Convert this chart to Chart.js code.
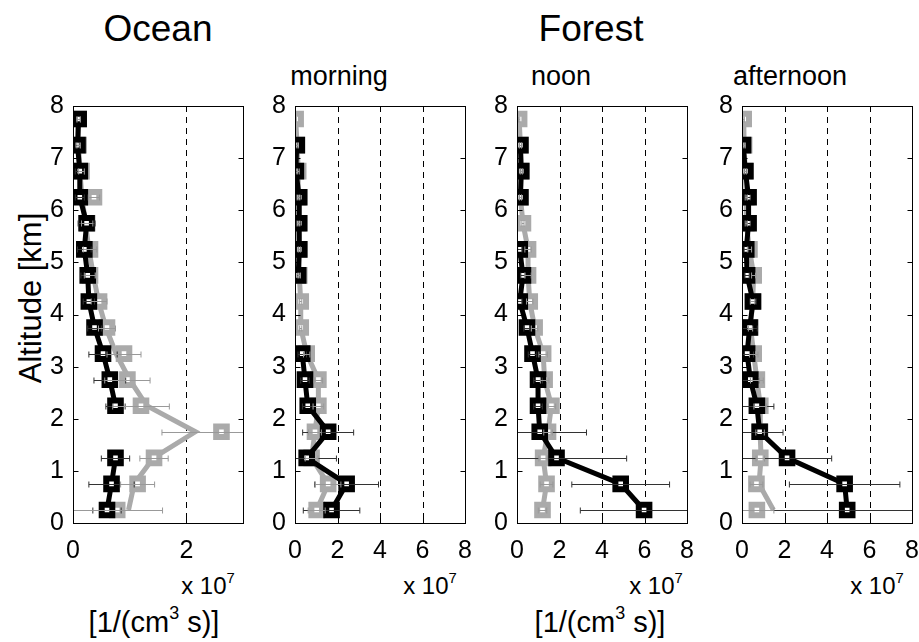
<!DOCTYPE html>
<html lang="en">
<head>
<meta charset="UTF-8"/>
<title>Ocean / Forest profiles</title>
<script src="https://cdn.jsdelivr.net/npm/chart.js@4.4.2/dist/chart.umd.min.js"></script>
<style>
body{margin:0;width:919px;height:642px;background:#fff;overflow:hidden;position:relative;font-family:"Liberation Sans",Arial,sans-serif;color:#000}
canvas{position:absolute}
.t{position:absolute;white-space:nowrap;transform:translate(-50%,-50%);line-height:1}
.t sup{font-size:62%;position:relative;top:-0.15em}
</style>
</head>
<body>
<div class="t" style="left:158px;top:28px;font-size:37px">Ocean</div>
<div class="t" style="left:591px;top:28px;font-size:37px">Forest</div>
<div class="t" style="left:339px;top:76px;font-size:27px">morning</div>
<div class="t" style="left:561px;top:76px;font-size:27px">noon</div>
<div class="t" style="left:790px;top:76px;font-size:27px">afternoon</div>
<div class="t" style="left:30px;top:298px;font-size:31px;transform:translate(-50%,-50%) rotate(-90deg)">Altitude [km]</div>
<div class="t" style="left:208px;top:585px;font-size:24px">x 10<sup>7</sup></div>
<div class="t" style="left:430px;top:585px;font-size:24px">x 10<sup>7</sup></div>
<div class="t" style="left:656px;top:585px;font-size:24px">x 10<sup>7</sup></div>
<div class="t" style="left:877px;top:585px;font-size:24px">x 10<sup>7</sup></div>
<div class="t" style="left:154px;top:622px;font-size:29px">[1/(cm<sup>3</sup> s)]</div>
<div class="t" style="left:600px;top:622px;font-size:29px">[1/(cm<sup>3</sup> s)]</div>

<canvas id="c0" width="230" height="477" style="left:28px;top:86px"></canvas>
<canvas id="c1" width="230" height="477" style="left:250px;top:86px"></canvas>
<canvas id="c2" width="230" height="477" style="left:472px;top:86px"></canvas>
<canvas id="c3" width="230" height="477" style="left:697px;top:86px"></canvas>
<script>
// altitude levels [km]
const alt = [0.25,0.75,1.25,1.75,2.25,2.75,3.25,3.75,4.25,4.75,5.25,5.75,6.25,6.75,7.25,7.75];
const yTicks = [0,1,2,3,4,5,6,7,8];
const xTicks = [0,2,4,6,8];

// values in units of 1e7 1/(cm^3 s)
const oceanBlack     = [0.60,0.68,0.75,null,0.75,0.65,0.53,0.38,0.28,0.26,0.20,0.24,0.12,0.12,0.08,0.10];
const oceanBlackErr  = [0.25,0.40,0.25,null,0.17,0.28,0.25,0.12,0.10,0.12,0.12,0.15,0.08,0.08,0.03,0.03];
const oceanGray      = [0.78,1.14,1.43,2.62,1.20,0.96,0.90,0.60,0.46,0.30,0.30,0.25,0.37,0.15,0.10,0.10];
const oceanGrayErr   = [0.80,0.30,0.25,1.05,0.50,0.40,0.30,0.15,0.14,0.10,0.12,0.10,0.10,0.05,0.03,0.03];
const oceanGrayLine  = [0.98,1.08,1.42,2.16,1.30,1.00,0.76,0.58,0.45,0.36,0.28,0.22,0.16,0.12,0.10,0.08];

const mornBlack      = [1.72,2.43,0.55,1.56,0.60,0.47,0.34,null,null,0.15,0.20,0.20,0.20,0.04,0.08,null];
const mornBlackErr   = [1.33,1.50,1.40,1.20,0.25,0.20,0.20,null,null,0.05,0.05,0.05,0.05,0.05,0.05,null];
const mornGray       = [1.02,1.56,0.78,0.94,1.10,1.10,0.55,0.27,0.27,0.20,0.20,0.15,0.15,0.15,0.10,0.03];
const mornGrayErr    = [0.40,0.60,0.30,0.30,0.25,0.20,0.15,0.05,0.05,0.05,0.05,0.05,0.05,0.05,0.05,0.03];

const noonBlack      = [5.98,4.88,1.86,1.07,0.99,0.99,0.73,0.47,0.13,0.28,0.13,null,0.16,0.20,0.16,null];
const noonBlackErr   = [3.00,2.30,3.30,2.20,0.20,0.20,0.20,0.15,0.10,0.10,0.10,null,0.05,0.05,0.05,null];
const noonGray       = [1.20,1.39,1.23,1.46,1.62,1.30,1.23,0.83,0.60,0.52,0.52,0.28,0.16,0.20,0.16,0.10];
const noonGrayErr    = [0.20,0.30,0.20,0.20,0.20,0.20,0.20,0.15,0.15,0.15,0.15,0.05,0.05,0.05,0.05,0.03];

const aftBlack       = [4.95,4.83,2.12,0.83,0.70,0.39,0.24,0.36,0.52,0.24,0.20,0.31,0.31,0.16,0.05,null];
const aftBlackErr    = [5.00,2.60,2.10,1.10,0.80,0.40,0.30,0.36,0.15,0.10,0.10,0.08,0.08,0.05,0.05,null];
const aftGray        = [0.70,0.68,0.86,0.85,0.86,0.70,0.55,0.40,0.50,0.55,0.35,0.20,0.20,0.15,0.10,0.08];
const aftGrayErr     = [0.80,0.30,0.20,0.20,0.30,0.30,0.20,0.10,0.10,0.10,0.10,0.05,0.05,0.05,0.05,0.03];
const aftGrayLine    = [1.48,0.80,0.90,0.85,0.86,0.70,0.55,0.40,0.50,0.55,0.35,0.20,0.20,0.15,0.10,0.08];

const BLACK="#000", GRAY="#aaaaaa";
const pts = v => alt.map((a,i)=>({x:v[i]==null?null:v[i], y:a}));

function marks(v,err,col,barCol){
  return {data:pts(v),err:err,barCol:barCol,showLine:false,pointStyle:'rect',pointRadius:7.5,
    pointBorderWidth:6,borderColor:col,pointBackgroundColor:'#fff'};
}
function line(v,col){
  return {data:pts(v),showLine:true,spanGaps:false,pointRadius:0,borderWidth:5,borderColor:col,
    borderJoinStyle:'miter',borderCapStyle:'butt'};
}

// error bars, dashed grid and box
const decor = {
  id:'decor',
  beforeDatasetsDraw(c){
    const {ctx,chartArea:a,scales:{x}}=c;
    ctx.save();
    ctx.strokeStyle='#000';ctx.lineWidth=1;ctx.setLineDash([6,5]);
    x.ticks.forEach(t=>{
      if(t.value<=0||t.value>=x.max) return;
      const px=Math.round(x.getPixelForValue(t.value))+0.5;
      ctx.beginPath();ctx.moveTo(px,a.top);ctx.lineTo(px,a.bottom);ctx.stroke();
    });
    ctx.restore();
  },
  afterDatasetsDraw(c){
    const {ctx,chartArea:a,scales:{x,y}}=c;
    ctx.save();
    ctx.beginPath();ctx.rect(a.left,a.top,a.right-a.left,a.bottom-a.top);ctx.clip();
    ctx.lineWidth=1;
    c.data.datasets.forEach(ds=>{
      if(!ds.err) return;
      ctx.strokeStyle=ds.barCol;
      ds.data.forEach((p,i)=>{
        if(p.x==null||ds.err[i]==null) return;
        const x1=x.getPixelForValue(p.x-ds.err[i]), x2=x.getPixelForValue(p.x+ds.err[i]);
        const py=Math.round(y.getPixelForValue(p.y))+0.5;
        ctx.beginPath();
        ctx.moveTo(x1,py);ctx.lineTo(x2,py);
        ctx.moveTo(x1,py-3);ctx.lineTo(x1,py+3);
        ctx.moveTo(x2,py-3);ctx.lineTo(x2,py+3);
        ctx.stroke();
      });
    });
    ctx.restore();
    ctx.save();
    ctx.strokeStyle='#000';ctx.lineWidth=1;
    const L=Math.round(a.left)+0.5,R=Math.round(a.right)+0.5,T=Math.round(a.top)+0.5,B=Math.round(a.bottom)+0.5;
    ctx.strokeRect(L,T,R-L,B-T);
    ctx.beginPath();
    y.ticks.forEach(t=>{
      const py=Math.round(y.getPixelForValue(t.value))+0.5;
      ctx.moveTo(L,py);ctx.lineTo(L+5,py);ctx.moveTo(R,py);ctx.lineTo(R-5,py);
    });
    x.ticks.forEach(t=>{
      const px=Math.round(x.getPixelForValue(t.value))+0.5;
      ctx.moveTo(px,B);ctx.lineTo(px,B-5);ctx.moveTo(px,T);ctx.lineTo(px,T+5);
    });
    ctx.stroke();
    ctx.restore();
  }
};

function panel(id,xMax,sets){
  new Chart(document.getElementById(id),{
    type:'scatter',
    data:{datasets:sets},
    options:{
      responsive:false,animation:false,
      layout:{padding:{top:20,right:15,left:0,bottom:0}},
      plugins:{legend:{display:false},tooltip:{enabled:false}},
      scales:{
        x:{type:'linear',min:0,max:xMax,
          afterBuildTicks:s=>{s.ticks=xTicks.filter(v=>v<=xMax).map(v=>({value:v}))},
          afterFit:s=>{s.height=40},
          grid:{display:false},border:{display:false},
          ticks:{color:'#000',font:{family:'"Liberation Sans", Arial, sans-serif',size:25},padding:5,maxRotation:0}},
        y:{type:'linear',min:0,max:8,
          afterBuildTicks:s=>{s.ticks=yTicks.map(v=>({value:v}))},
          afterFit:s=>{s.width=45},
          grid:{display:false},border:{display:false},
          ticks:{color:'#000',font:{family:'"Liberation Sans", Arial, sans-serif',size:25},padding:1}}
      }
    },
    plugins:[decor]
  });
}

panel('c0',3,[
  marks(oceanBlack,oceanBlackErr,BLACK,'#333'),
  line(oceanBlack,BLACK),
  marks(oceanGray,oceanGrayErr,GRAY,'#999'),
  line(oceanGrayLine,GRAY)
]);
panel('c1',8,[
  marks(mornBlack,mornBlackErr,BLACK,'#333'),
  line(mornBlack,BLACK),
  marks(mornGray,mornGrayErr,GRAY,'#999'),
  line(mornGray,GRAY)
]);
panel('c2',8,[
  marks(noonBlack,noonBlackErr,BLACK,'#333'),
  line(noonBlack,BLACK),
  marks(noonGray,noonGrayErr,GRAY,'#999'),
  line(noonGray,GRAY)
]);
panel('c3',8,[
  marks(aftBlack,aftBlackErr,BLACK,'#333'),
  line(aftBlack,BLACK),
  marks(aftGray,aftGrayErr,GRAY,'#999'),
  line(aftGrayLine,GRAY)
]);
</script>
</body>
</html>
